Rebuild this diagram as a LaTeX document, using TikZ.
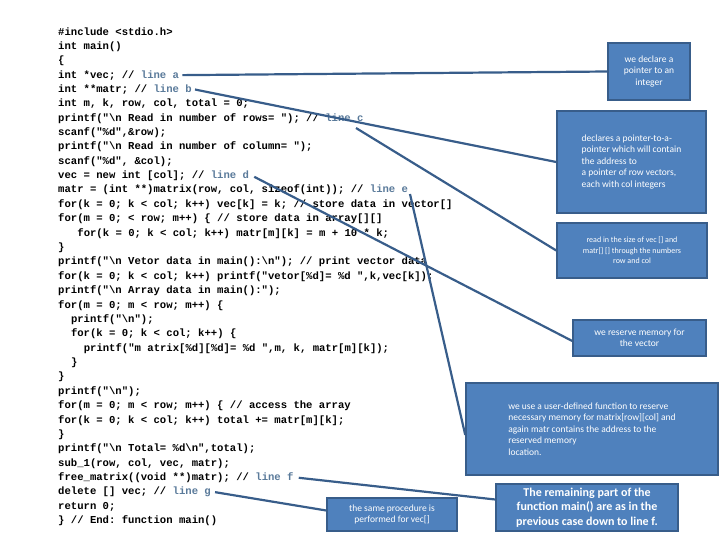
\documentclass[tikz,border=0pt]{standalone}
\usepackage{fontspec}
\setmonofont{Liberation Mono}
\newfontfamily\boxfont{Carlito}
\definecolor{boxfill}{HTML}{4F81BD}
\definecolor{boxline}{HTML}{385D8A}
\definecolor{cmt}{HTML}{5A7A9A}
\begin{document}
\begin{tikzpicture}[x=1pt,y=-1pt,
  code/.style={anchor=west,inner sep=0pt,font=\ttfamily\bfseries\fontsize{10.6}{12}\selectfont},
  note/.style={draw=boxline,line width=1.5pt,fill=boxfill,text=white,inner sep=2pt,align=center,font=\boxfont\fontsize{9.5}{11.5}\selectfont},
  conn/.style={draw=boxline,line width=2.2pt}]
\useasboundingbox (0,0) rectangle (720,540);
\newcommand{\lc}[1]{\textcolor{cmt}{#1}}
\newcommand{\bs}{\textbackslash}
\foreach \i/\ind/\t in {
1/0/{\#include <stdio.h>},
2/0/{int main()},
3/0/{\{},
4/0/{int *vec; // \lc{line a}},
5/0/{int **matr; // \lc{line b}},
6/0/{int m, k, row, col, total = 0;},
7/0/{printf("\bs n Read in number of rows= "); // \lc{line c}},
8/0/{scanf("\%d",\&row);},
9/0/{printf("\bs n Read in number of column= ");},
10/0/{scanf("\%d", \&col);},
11/0/{vec = new int [col]; // \lc{line d}},
12/0/{matr = (int **)matrix(row, col, sizeof(int)); // \lc{line e}},
13/0/{for(k = 0; k < col; k++) vec[k] = k; // store data in vector[]},
14/0/{for(m = 0; < row; m++) \{ // store data in array[][]},
15/3/{for(k = 0; k < col; k++) matr[m][k] = m + 10 * k;},
16/0/{\}},
17/0/{printf("\bs n Vetor data in main():\bs n"); // print vector data},
18/0/{for(k = 0; k < col; k++) printf("vetor[\%d]= \%d ",k,vec[k]);},
19/0/{printf("\bs n Array data in main():");},
20/0/{for(m = 0; m < row; m++) \{},
21/2/{printf("\bs n");},
22/2/{for(k = 0; k < col; k++) \{},
23/4/{printf("m atrix[\%d][\%d]= \%d ",m, k, matr[m][k]);},
24/2/{\}},
25/0/{\}},
26/0/{printf("\bs n");},
27/0/{for(m = 0; m < row; m++) \{ // access the array},
28/0/{for(k = 0; k < col; k++) total += matr[m][k];},
29/0/{\}},
30/0/{printf("\bs n Total= \%d\bs n",total);},
31/0/{sub\_1(row, col, vec, matr);},
32/0/{free\_matrix((void **)matr); // \lc{line f}},
33/0/{delete [] vec; // \lc{line g}},
34/0/{return 0;},
35/0/{\} // End: function main()}}
{\node[code] (l\i) at ({58+\ind*6.4},{32+(\i-1)*14.38}) {\t};}

\node[note,minimum width=82pt,minimum height=57pt] (n1) at (649,71.5) {we declare a\\pointer to an\\integer};
\node[note,minimum width=149pt,minimum height=102pt,align=left] (n2) at (631.5,162) {declares a pointer-to-a-\\pointer which will contain\\the address to\\a pointer of row vectors,\\each with col integers};
\node[note,minimum width=150pt,minimum height=55pt,font=\boxfont\fontsize{8}{10.5}\selectfont] (n3) at (632,250.5) {read in the size of vec [] and\\matr[] [] through the numbers\\row and col};
\node[note,minimum width=133pt,minimum height=36pt] (n4) at (639.5,338) {we reserve memory for\\the vector};
\node[note,minimum width=252pt,minimum height=92pt,align=left] (n5) at (592,429) {we use a user-defined function to reserve\\necessary memory for matrix[row][col] and\\again matr contains the address to the\\reserved memory\\location.};
\node[note,minimum width=182pt,minimum height=47pt,font=\boxfont\bfseries\fontsize{12}{14.5}\selectfont] (n6) at (587,507.5) {The remaining part of the\\function main() are as in the\\previous case down to line f.};
\node[note,minimum width=130pt,minimum height=33pt] (n7) at (392,514.5) {the same procedure is\\performed for vec[]};

\coordinate (ca) at ([xshift=3pt]l4.east);
\coordinate (cb) at ([xshift=3pt]l5.east);
\coordinate (cc) at (356,128);
\coordinate (cd) at ([xshift=5pt,yshift=-1pt]l11.east);
\coordinate (ce) at (410,194);
\coordinate (cf) at ([xshift=5pt]l32.east);
\coordinate (cg) at ([xshift=4pt]l33.east);
\draw[conn] (ca) -- (n1.west);
\draw[conn] (cb) -- (n2.west);
\draw[conn] (cc) -- (n3.west);
\draw[conn] (cd) -- ([yshift=-3pt]n4.west);
\draw[conn] (ce) -- ([yshift=-6pt]n5.west);
\draw[conn] (cf) -- ([yshift=8pt]n6.west);
\draw[conn] (cg) -- ([yshift=4pt]n7.west);
\end{tikzpicture}
\end{document}
